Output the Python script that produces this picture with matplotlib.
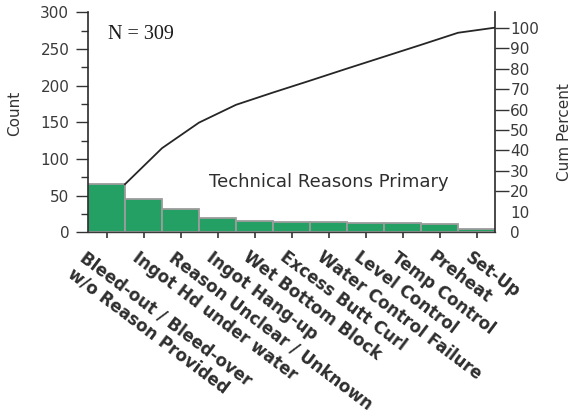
import matplotlib
matplotlib.use("Agg")
import matplotlib.pyplot as plt
import numpy as np
from matplotlib.transforms import ScaledTranslation

# ---- data ----
categories = [
    "Bleed-out / Bleed-over\nw/o Reason Provided",
    "Ingot Hd under water",
    "Reason Unclear / Unknown",
    "Ingot Hang-up",
    "Wet Bottom Block",
    "Excess Butt Curl",
    "Water Control Failure",
    "Level Control",
    "Temp Control",
    "Preheat",
    "Set-Up",
]
counts = [66, 45, 32, 20, 16, 14, 14, 13, 13, 11, 5]
cum_percent = [23.5, 41.1, 53.6, 62.3, 68.3, 74.1, 80.0, 85.8, 91.6, 97.5, 100.0]
count_ticks = [0, 50, 100, 150, 200, 250, 300]
count_minor_ticks = [25, 75, 125, 175, 225, 275]
percent_ticks = [0, 10, 20, 30, 40, 50, 60, 70, 80, 90, 100]
n_text = "N = 309"
inner_title = "Technical Reasons Primary"

plt.rcParams["font.family"] = ["DejaVu Sans"]

fig = plt.figure(figsize=(5.76, 4.17), dpi=100)
ax = fig.add_axes([88 / 576, (417 - 232.3) / 417, 407 / 576, 220 / 417])
ax2 = ax.twinx()

x = np.arange(len(categories))
ax.bar(x, counts, width=1.0, color="#25a064", edgecolor="#9c9c9c",
       linewidth=1.3, align="center", zorder=2)
ax.set_xlim(-0.5, len(categories) - 0.5)
ax.set_ylim(0, 300)

ax2.plot(x + 0.5, cum_percent, color="#262626", linewidth=1.3, zorder=3)
ax2.set_ylim(0, 107.5)

# spines
for a in (ax, ax2):
    a.spines["top"].set_visible(False)
    a.patch.set_visible(False)
ax.spines["right"].set_visible(False)
ax2.spines["left"].set_visible(False)
ax2.spines["bottom"].set_visible(False)
ax.spines["left"].set_linewidth(1.2)
ax.spines["left"].set_color("#2a2a2a")
ax.spines["bottom"].set_linewidth(1.0)
ax.spines["bottom"].set_color("#3a3a3a")
ax2.spines["right"].set_linewidth(1.2)
ax2.spines["right"].set_color("#2a2a2a")

# left axis ticks
ax.set_yticks(count_ticks)
ax.set_yticks(count_minor_ticks, minor=True)
ax.tick_params(axis="y", which="major", direction="out", length=8.5, width=1.0,
               color="#333333", labelsize=11, labelcolor="#3a3a3a", pad=5)
ax.tick_params(axis="y", which="minor", direction="out", length=5, width=1.0,
               color="#333333")
ax.set_ylabel("Count", fontsize=11, color="#333333")
ax.yaxis.set_label_coords(-0.163, 0.54)

# right axis ticks
ax2.set_yticks(percent_ticks)
ax2.tick_params(axis="y", which="major", direction="out", length=10, width=1.0,
                color="#333333", labelsize=11, labelcolor="#3a3a3a", pad=1)
for t in ax2.yaxis.get_major_ticks()[:2]:
    t.tick2line.set_visible(False)
ax2.set_ylabel("Cum Percent", fontsize=11, color="#333333")
ax2.yaxis.set_label_coords(1.153, 0.454)

# bottom ticks and rotated category labels
ax.set_xticks(x)
ax.set_xticklabels([])
ax.tick_params(axis="x", direction="out", length=4, width=1.2, color="#333333")
xtrans = ax.get_xaxis_transform()
for i, lab in enumerate(categories):
    dx = -19 if "\n" in lab else -4
    tr = xtrans + ScaledTranslation(dx / 100, -16 / 100, fig.dpi_scale_trans)
    ax.text(i, 0, lab, transform=tr, rotation=-37, rotation_mode="anchor",
            ha="left", va="top", fontsize=12, fontweight="bold",
            color="#2e2e2e", linespacing=1.15)

# annotations
ax.text(0.049, 0.877, n_text, transform=ax.transAxes, ha="left", va="baseline",
        fontsize=14.5, family=["Liberation Serif", "DejaVu Serif"], color="#1a1a1a")
ax.text(0.592, 0.2045, inner_title, transform=ax.transAxes, ha="center",
        va="baseline", fontsize=13, color="#2e2e2e")

fig.savefig("out.png", dpi=100)
